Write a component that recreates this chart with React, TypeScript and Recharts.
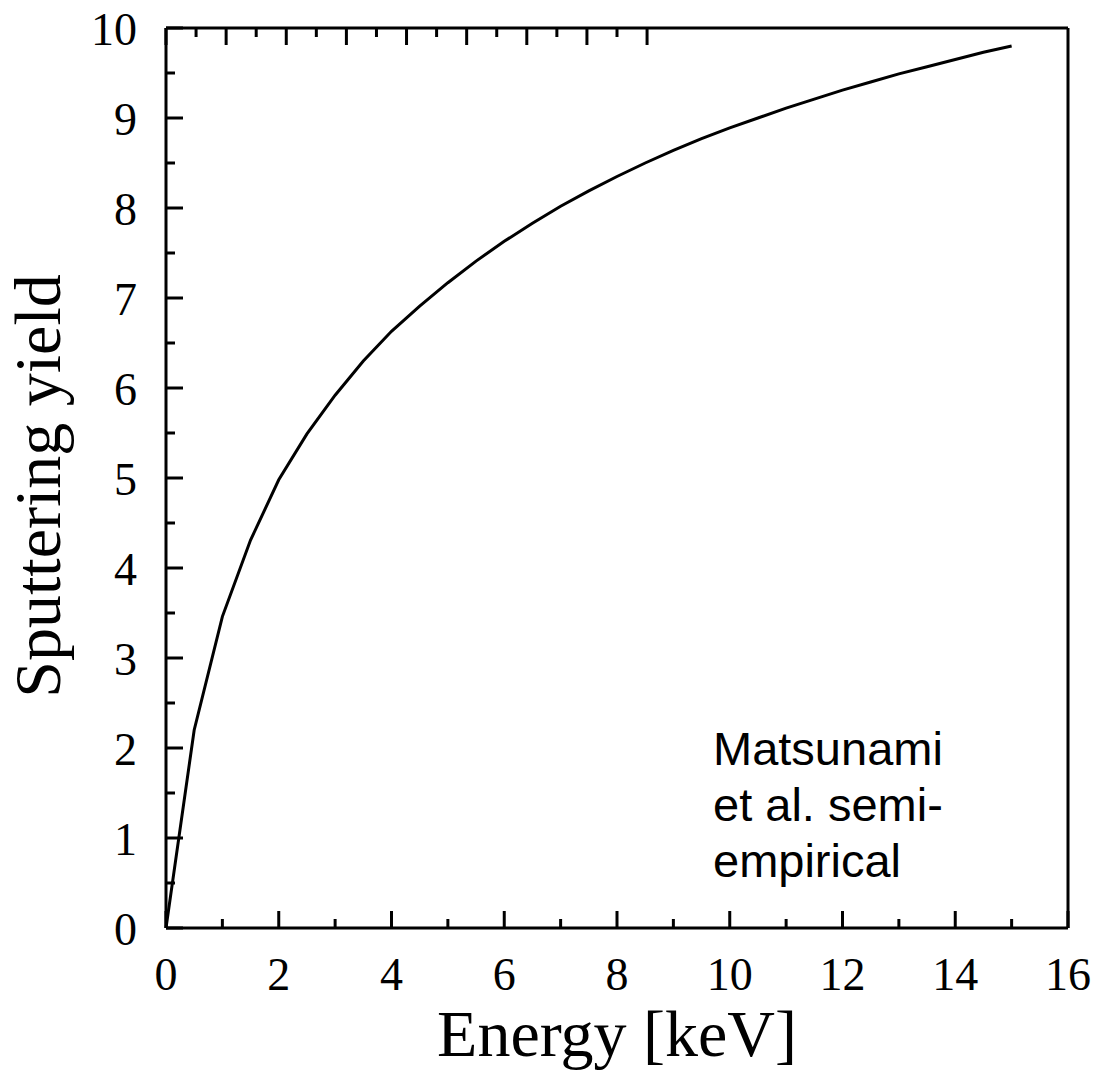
import { LineChart, Line, XAxis, YAxis, Customized } from 'recharts';

// values
const energy = [
  0, 0.5, 1, 1.5, 2, 2.5, 3, 3.5, 4, 4.5, 5, 5.5, 6, 6.5, 7, 7.5,
  8, 8.5, 9, 9.5, 10, 10.5, 11, 11.5, 12, 12.5, 13, 13.5, 14, 14.5, 15,
];
const sputterYield = [
  0, 2.2, 3.46, 4.31, 4.98, 5.49, 5.92, 6.3, 6.63, 6.91, 7.17, 7.41, 7.63, 7.83, 8.02, 8.19,
  8.35, 8.5, 8.64, 8.77, 8.89, 9.0, 9.11, 9.21, 9.31, 9.4, 9.49, 9.57, 9.65, 9.73, 9.8,
];

const xTicks = [0, 1, 2, 3, 4, 5, 6, 7, 8, 9, 10, 11, 12, 13, 14, 15, 16];
const xLabels = [0, 2, 4, 6, 8, 10, 12, 14, 16];
const yTicks = [0, 0.5, 1, 1.5, 2, 2.5, 3, 3.5, 4, 4.5, 5, 5.5, 6, 6.5, 7, 7.5, 8, 8.5, 9, 9.5, 10];
const yLabels = [0, 1, 2, 3, 4, 5, 6, 7, 8, 9, 10];

const noteLines = ['Matsunami', 'et al. semi-', 'empirical'];

const data = energy.map((e, i) => ({ e, y: sputterYield[i] }));

const SERIF = '"Liberation Serif", "Times New Roman", serif';
const SANS = '"Liberation Sans", Arial, sans-serif';
const MAJOR = 17;
const MINOR = 9;

const BottomTick = ({ x, y, payload }: any) => {
  const major = xLabels.includes(payload.value);
  return (
    <g>
      <line x1={x} y1={y} x2={x} y2={y - (major ? MAJOR : MINOR)} stroke="#000" strokeWidth={3} />
      {major && (
        <text x={x} y={y + 62} textAnchor="middle" fontFamily={SERIF} fontSize={46} fill="#000">
          {payload.value}
        </text>
      )}
    </g>
  );
};

const TopTick = ({ x, y, payload }: any) => {
  const major = xLabels.includes(payload.value);
  return <line x1={x} y1={y} x2={x} y2={y + (major ? MAJOR : MINOR)} stroke="#000" strokeWidth={3} />;
};

const LeftTick = ({ x, y, payload }: any) => {
  const major = yLabels.includes(payload.value);
  return (
    <g>
      <line x1={x} y1={y} x2={x + (major ? MAJOR : MINOR)} y2={y} stroke="#000" strokeWidth={3} />
      {major && (
        <text x={x - 29} y={y + 17} textAnchor="end" fontFamily={SERIF} fontSize={46} fill="#000">
          {payload.value}
        </text>
      )}
    </g>
  );
};

const RightTick = ({ x, y, payload }: any) => {
  const major = yLabels.includes(payload.value);
  return <line x1={x} y1={y} x2={x - (major ? MAJOR : MINOR)} y2={y} stroke="#000" strokeWidth={3} />;
};

const Titles = () => (
  <g>
    <text x={617} y={1056} textAnchor="middle" fontFamily={SERIF} fontSize={66} fill="#000">
      Energy [keV]
    </text>
    <text
      x={60}
      y={486}
      textAnchor="middle"
      transform="rotate(-90, 60, 486)"
      fontFamily={SERIF}
      fontSize={66}
      fill="#000"
    >
      Sputtering yield
    </text>
    {noteLines.map((t, i) => (
      <text key={t} x={713} y={765 + i * 56} fontFamily={SANS} fontSize={47} fill="#000">
        {t}
      </text>
    ))}
  </g>
);

const axisLine = { stroke: '#000', strokeWidth: 3 };

export default function App() {
  return (
    <div style={{ position: 'absolute', left: 0, top: 0, width: 1093, height: 1071, overflow: 'hidden', background: '#fff' }}>
      <LineChart width={1093} height={1071} data={data} margin={{ top: 0, right: 0, bottom: 0, left: 0 }}>
        <XAxis
          xAxisId="b"
          dataKey="e"
          type="number"
          domain={[0, 16]}
          ticks={xTicks}
          interval={0}
          height={143}
          tickSize={0}
          tickMargin={0}
          tickLine={false}
          axisLine={axisLine}
          tick={<BottomTick />}
        />
        <XAxis
          xAxisId="t"
          orientation="top"
          type="number"
          domain={[0, 16]}
          ticks={xTicks}
          interval={0}
          height={28}
          tickSize={0}
          tickMargin={0}
          tickLine={false}
          axisLine={axisLine}
          tick={<TopTick />}
        />
        <YAxis
          yAxisId="l"
          type="number"
          domain={[0, 10]}
          ticks={yTicks}
          interval={0}
          width={166}
          tickSize={0}
          tickMargin={0}
          tickLine={false}
          axisLine={axisLine}
          tick={<LeftTick />}
        />
        <YAxis
          yAxisId="r"
          orientation="right"
          type="number"
          domain={[0, 10]}
          ticks={yTicks}
          interval={0}
          width={25}
          tickSize={0}
          tickMargin={0}
          tickLine={false}
          axisLine={axisLine}
          tick={<RightTick />}
        />
        <Line
          xAxisId="b"
          yAxisId="l"
          type="linear"
          dataKey="y"
          stroke="#000"
          strokeWidth={3}
          dot={false}
          activeDot={false}
          isAnimationActive={false}
        />
        <Customized component={Titles} />
      </LineChart>
    </div>
  );
}
